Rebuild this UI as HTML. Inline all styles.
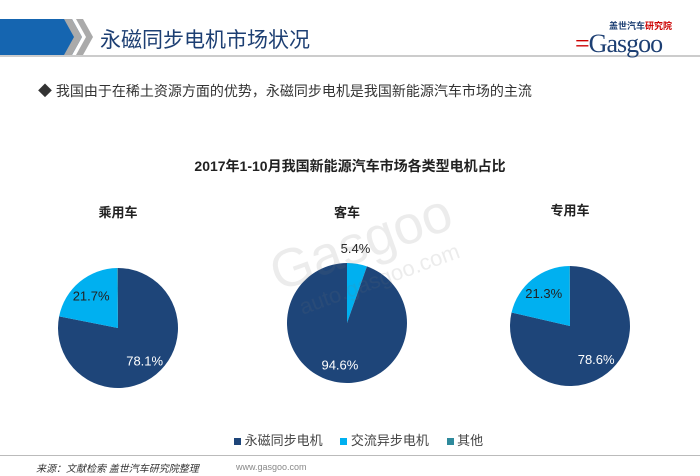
<!DOCTYPE html>
<html><head><meta charset="utf-8"><style>
body{margin:0;width:700px;height:476px;background:#fff;position:relative;overflow:hidden;font-family:"Liberation Sans","Noto Sans CJK SC",sans-serif}
.abs{position:absolute}
</style></head><body>
<div class="abs" style="left:0;top:19px;width:72px;height:36px;background:#1565b0"></div>
<svg class="abs" style="left:0;top:0" width="700" height="476">
<polygon points="60,19 72,19 82,37 72,55 60,55" fill="#1565b0"/>
<polygon points="64,19 72,19 82,37 72,55 64,55 74,37" fill="#aaa"/>
<polygon points="76,19 83,19 93,37 83,55 76,55 86,37" fill="#aaa"/>
<rect x="0" y="55" width="700" height="2" fill="#ccc"/>
<rect x="0" y="455" width="700" height="1" fill="#bbb"/>
<g id="pies"></g>
<g opacity="0.13" fill="#777" font-family="Liberation Sans, sans-serif" transform="rotate(-20 350 255)">
<text x="270" y="265" font-size="54">Gasgoo</text>
<text x="285" y="295" font-size="22">auto.gasgoo.com</text>
</g>
</svg>
<div class="abs" style="left:100px;top:24px;font-size:21px;color:#1d3f73">永磁同步电机市场状况</div>
<div class="abs" style="left:575px;top:17px;width:110px;height:40px">
<div style="position:absolute;left:34px;top:2px;font-size:9px;font-weight:bold;color:#1d3f73">盖世汽车<span style="color:#c00">研究院</span></div>
<div style="position:absolute;left:0;top:12px;font-size:26px;color:#1d3f73;font-family:'Liberation Serif',serif;letter-spacing:-1px"><span style="color:#c00">=</span>Gasgoo</div>
</div>
<div class="abs" style="left:38px;top:81px;font-size:14px;color:#333">◆ 我国由于在稀土资源方面的优势，永磁同步电机是我国新能源汽车市场的主流</div>
<div class="abs" style="left:0;width:700px;text-align:center;top:156px;font-size:14px;font-weight:bold;color:#222">2017年1-10月我国新能源汽车市场各类型电机占比</div>
<div class="abs" style="left:234px;top:430px;font-size:13px;color:#444">
<span><span style="display:inline-block;width:7px;height:7px;background:#1e4579"></span> 永磁同步电机</span>
<span style="margin-left:14px"><span style="display:inline-block;width:7px;height:7px;background:#00b0f0"></span> 交流异步电机</span>
<span style="margin-left:14px"><span style="display:inline-block;width:7px;height:7px;background:#2e8a9c"></span> 其他</span>
</div>
<div class="abs" style="left:36px;top:460px;font-size:10px;font-style:italic;color:#333">来源：文献检索 盖世汽车研究院整理</div>
<div class="abs" style="left:236px;top:462px;font-size:9px;color:#888">www.gasgoo.com</div>
<script>
const categories=["乘用车","客车","专用车"];
const pmValues=[78.1,94.6,78.6];
const acValues=[21.7,5.4,21.3];
const otherValues=[0.2,0,0.1];
const acFirst=[false,true,false];
const centers=[[118,328],[347,323],[570,326]];
const R=60, colors={pm:"#1e4579",ac:"#00b0f0",other:"#2e8a9c"};
const NS="http://www.w3.org/2000/svg", g=document.getElementById("pies");
function pt(cx,cy,r,f){const a=f*2*Math.PI-Math.PI/2;return [cx+r*Math.cos(a),cy+r*Math.sin(a)];}
categories.forEach((c,i)=>{
  const [cx,cy]=centers[i];
  const tot=pmValues[i]+acValues[i]+otherValues[i];
  let segs=[["pm",pmValues[i]],["ac",acValues[i]],["other",otherValues[i]]];
  if(acFirst[i]) segs=[["ac",acValues[i]],["pm",pmValues[i]],["other",otherValues[i]]];
  let s=0;
  segs.forEach(([k,v])=>{
    if(v<=0)return;
    const f=v/tot,e=s+f;
    const p=document.createElementNS(NS,"path");
    const [x1,y1]=pt(cx,cy,R,s),[x2,y2]=pt(cx,cy,R,e);
    p.setAttribute("d",`M${cx},${cy}L${x1},${y1}A${R},${R} 0 ${f>0.5?1:0} 1 ${x2},${y2}Z`);
    p.setAttribute("fill",colors[k]);
    
    
    g.appendChild(p);
    if(k!=="other"){
      const t=document.createElementNS(NS,"text");
      const m=(s+e)/2; let lx,ly;
      if(f<0.1){[lx,ly]=pt(cx,cy,R+14,m);lx-=4;ly-=2;t.setAttribute("fill","#222");}
      else {[lx,ly]=pt(cx,cy,R*0.7,m);t.setAttribute("fill",k==="pm"?"#fff":"#222");}
      t.setAttribute("x",lx);t.setAttribute("y",ly+5);
      t.setAttribute("text-anchor","middle");t.setAttribute("font-size","13");
      t.setAttribute("font-family","Liberation Sans, sans-serif");
      t.textContent=v.toFixed(1)+"%";
      
      
      g.appendChild(t);
    }
    s=e;
  });
  const tt=document.createElementNS(NS,"text");
  tt.setAttribute("x",cx);tt.setAttribute("y",cy-111+(i===1?5:0));
  tt.setAttribute("text-anchor","middle");tt.setAttribute("font-size","13");tt.setAttribute("font-weight","bold");
  tt.setAttribute("font-family","Liberation Sans, Noto Sans CJK SC, sans-serif");tt.setAttribute("fill","#222");
  tt.textContent=c;
  
  
  g.appendChild(tt);
});
</script>
</body></html>
